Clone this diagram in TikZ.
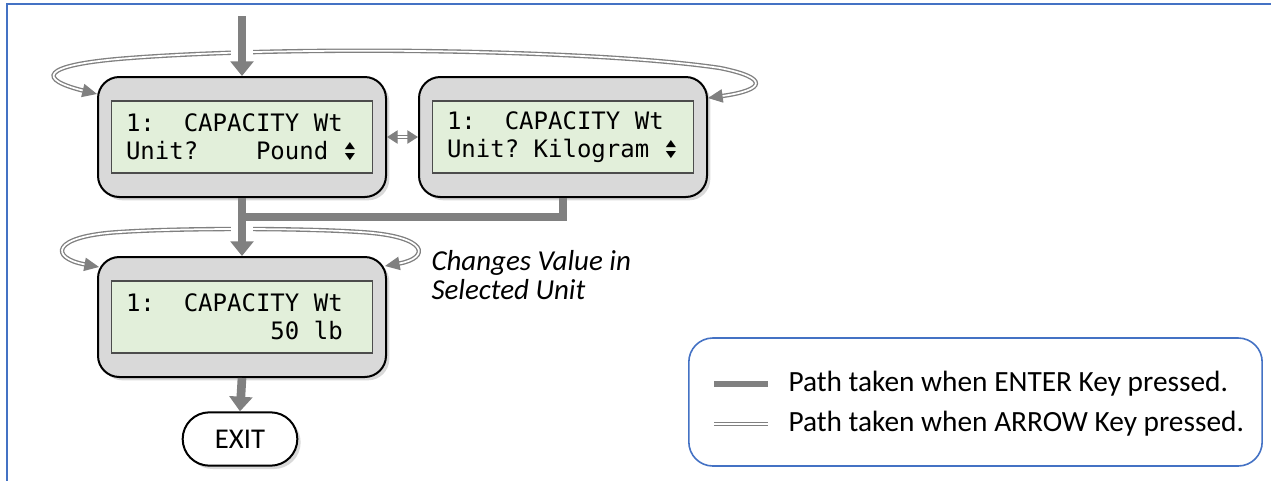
\documentclass[tikz,border=0pt]{standalone}
\usepackage{fontspec}
\usepackage{graphicx}
\setmainfont{Carlito}
\newfontfamily\lcdfont{DejaVu Sans Mono}
\newfontfamily\symfont{DejaVu Sans}
\usetikzlibrary{arrows.meta,shadows,calc}

\definecolor{frameblue}{RGB}{68,114,196}
\definecolor{keygray}{RGB}{128,128,128}
\definecolor{lcdgreen}{RGB}{226,239,218}
\definecolor{casegray}{RGB}{217,217,217}

\newcommand{\blank}{\hphantom{0}}
\newcommand{\updn}{\makebox[10.8pt][c]{\symfont\fontsize{10}{10}\selectfont\rlap{\raisebox{8.5pt}{\scalebox{1}[0.7]{▲}}}\scalebox{1}[0.7]{▼}}}

\tikzset{every picture/.style={line width=0.75pt}}
\tikzset{
  case/.style={draw=black, line width=1.5pt, fill=casegray, rounded corners=16pt,
    minimum width=216pt, minimum height=90pt,
    drop shadow={shadow xshift=2.5pt, shadow yshift=-2.5pt, opacity=0.3}},
  lcd/.style={draw=black!70, line width=1pt, fill=lcdgreen, minimum width=196pt,
    minimum height=54pt, inner xsep=11pt, inner ysep=0pt, text width=174pt, align=left,
    font=\lcdfont\fontsize{18}{21}\selectfont},
  exitbox/.style={draw=black, line width=1.5pt, fill=white, rounded corners=20pt,
    minimum width=86pt, minimum height=40pt, font=\fontsize{21.5}{24}\selectfont,
    drop shadow={shadow xshift=2.5pt, shadow yshift=-2.5pt, opacity=0.3}},
  legendbox/.style={draw=frameblue, line width=1.2pt, rounded corners=18pt,
    minimum width=430pt, minimum height=96pt},
  legendtext/.style={anchor=west, inner sep=0pt, font=\fontsize{22}{24}\selectfont},
  enterkey/.style={draw=keygray, line width=6.5pt, -{Triangle[width=17pt,length=11pt]}},
  enterline/.style={draw=keygray, line width=6.5pt},
  arrowkey/.style={draw=keygray, double=white, double distance=1.3pt, line width=1pt,
    {Triangle[width=10pt,length=11pt]}-{Triangle[width=10pt,length=11pt]}},
  arrowline/.style={draw=keygray, double=white, double distance=1.3pt, line width=1pt},
  mask/.style={draw=white, line width=17pt}
}

\begin{document}
\begin{tikzpicture}[x=0.75pt,y=0.75pt,yscale=-1,xscale=1]
\useasboundingbox (0,0) rectangle (1271,480);

%Frame
\draw [frameblue, line width=1.5pt] (7,520) -- (7,4) -- (1300,4) ;

%Display boxes
\node [case] (pound) at (242,137) {};
\node [lcd] (poundlcd) at (pound.center) {1:\blank\blank CAPACITY\blank Wt\\Unit?\blank\blank\blank\blank Pound\blank\updn};
\node [case] (kilo) at (563,137) {};
\node [lcd] (kilolcd) at (kilo.center) {1:\blank\blank CAPACITY\blank Wt\\Unit?\blank Kilogram\blank\updn};
\node [case] (weight) at (242,317) {};
\node [lcd] (weightlcd) at (weight.center) {1:\blank\blank CAPACITY\blank Wt\\\blank\blank\blank\blank\blank\blank\blank\blank\blank\blank 50\blank lb};
\node [exitbox] (exit) at (240,439) {EXIT};

% Text Node
\node [anchor=north west, inner sep=0pt, align=left, font=\itshape\fontsize{21.7}{21.75}\selectfont] (note) at (431,250) {Changes Value in\\Selected Unit};

%Legend
\node [legendbox] (legend) at (975.5,402) {};
\coordinate (enterA) at (714,384);
\coordinate (enterB) at (768,384);
\coordinate (arrowA) at (714,424);
\coordinate (arrowB) at (768,424);
\draw [draw=keygray, line width=4.5pt] (enterA) -- (enterB) ;
\draw [arrowline] (arrowA) -- (arrowB) ;
\node [legendtext] (entertext) at (788,384) {Path taken when ENTER Key pressed.};
\node [legendtext] (arrowtext) at (788,424) {Path taken when ARROW Key pressed.};

%Curve Lines
\draw [arrowkey] ($(pound.west)+(0,-43)$) .. controls (40,80) and (35,65) .. (130,58) .. controls (300,45) and (600,50) .. (720,68) .. controls (770,78) and (765,90) .. ($(kilo.east)+(0,-39)$) ;
\draw [arrowkey] ($(weight.west)+(2,-50)$) .. controls (50,258) and (50,236) .. (120,232) .. controls (180,228) and (300,228) .. (360,232) .. controls (430,236) and (430,258) .. ($(weight.east)+(-2,-51)$) ;
\draw [arrowline, {Triangle[width=10pt,length=8pt]}-{Triangle[width=10pt,length=8pt]}] (pound.east) -- (kilo.west) ;

%Straight Lines
\coordinate (start) at (pound.north |- 0,16);
\coordinate (branch) at (pound.south |- 0,217);
\draw [mask] (pound.north |- 0,42) -- (pound.north |- 0,66) ;
\draw [mask] (pound.south |- 0,223) -- (pound.south |- 0,237) ;
\draw [enterkey] (start) -- (pound.north) ;
\draw [enterline] (kilo.south) |- (branch) ;
\draw [enterkey] (pound.south) -- (weight.north) ;
\draw [enterkey] (weight.south) -- (exit.north) ;

\end{tikzpicture}
\end{document}
